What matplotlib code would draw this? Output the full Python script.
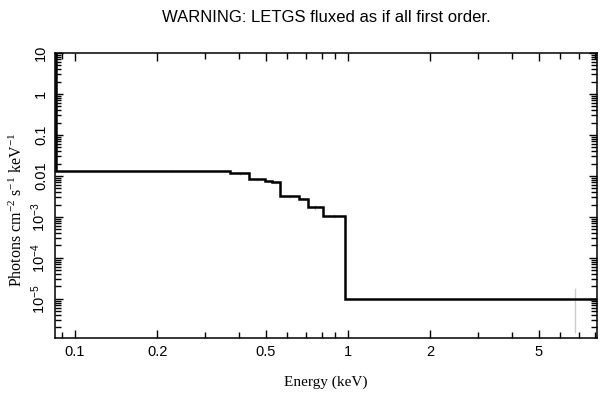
import numpy as np
import matplotlib
matplotlib.use("Agg")
import matplotlib.pyplot as plt
from matplotlib.ticker import FixedLocator, FuncFormatter, NullFormatter

# bin edges (keV) and flux per bin (photons cm^-2 s^-1 keV^-1)
edges = [0.06, 0.0852, 0.370, 0.434, 0.497, 0.527, 0.564, 0.662, 0.711, 0.808, 0.975, 12.6]
flux = [1000.0, 0.0130, 0.01145, 0.0083, 0.00755, 0.0069, 0.00319, 0.0028, 0.00169, 0.00104, 9.7e-6]
# error bar half-heights as fractions of the flux (faint grey bars)
err_frac = [0.0, 0.02, 0.08, 0.08, 0.08, 0.08, 0.1, 0.1, 0.12, 0.12, 0.85]

x_major = [0.1, 0.2, 0.5, 1, 2, 5]
x_labels = ["0.1", "0.2", "0.5", "1", "2", "5"]
y_major = [1e-5, 1e-4, 1e-3, 0.01, 0.1, 1, 10]
y_labels = ["10$^{-5}$", "10$^{-4}$", "10$^{-3}$", "0.01", "0.1", "1", "10"]

plt.rcParams["mathtext.default"] = "regular"
sans = "Liberation Sans"
serif = "Liberation Serif"

fig = plt.figure(figsize=(6.09, 3.99), dpi=100)
ax = fig.add_axes([0.0903, 0.153, 0.8900, 0.714])

edges = np.array(edges)
flux = np.array(flux)
centers = (edges[:-1] + edges[1:]) / 2
err = flux * np.array(err_frac)
ax.vlines(centers[1:], (flux - err)[1:], (flux + err)[1:], color="#cccccc", lw=1, zorder=1)
ax.hlines(flux[1:-1], centers[1:-1] * 0.985, centers[1:-1] * 1.015, color="#cccccc", lw=1, zorder=1)

ax.stairs(flux, edges, color="black", lw=1.8, baseline=None, zorder=2)

ax.set_xscale("log")
ax.set_yscale("log")
ax.set_xlim(0.0845, 8.17)
ax.set_ylim(1.1e-6, 10)

ax.xaxis.set_major_locator(FixedLocator(x_major))
ax.xaxis.set_major_formatter(FuncFormatter(lambda v, i: x_labels[x_major.index(v)] if v in x_major else ""))
minor_x = [0.09, 0.3, 0.4, 0.6, 0.7, 0.8, 0.9, 3, 4, 6, 7, 8]
ax.xaxis.set_minor_locator(FixedLocator(minor_x))
ax.xaxis.set_minor_formatter(NullFormatter())

ax.yaxis.set_major_locator(FixedLocator(y_major))
ax.set_yticklabels(y_labels, rotation=90, va="center", family=sans, fontsize=10.5)
minor_y = [m * 10.0 ** e for e in range(-6, 1) for m in range(2, 10)]
ax.yaxis.set_minor_locator(FixedLocator(minor_y))
ax.yaxis.set_minor_formatter(NullFormatter())

for lab in ax.get_xticklabels():
    lab.set_family(sans)
    lab.set_fontsize(10.5)

ax.tick_params(which="both", direction="in", top=True, right=True, width=1, color="black")
ax.tick_params(which="major", length=6, pad=5)
ax.tick_params(which="minor", length=4)
for s in ax.spines.values():
    s.set_linewidth(1.1)

ax.set_xlabel("Energy (keV)", family=serif, fontsize=11, labelpad=12)
ax.set_ylabel("Photons cm$^{-2}$ s$^{-1}$ keV$^{-1}$", family=serif, fontsize=11.5)
ax.yaxis.set_label_coords(-0.053, 0.45)
fig.text(0.535, 0.955, "WARNING: LETGS fluxed as if all first order.", family=sans, fontsize=12,
         ha="center", va="center")

fig.savefig("out.png", dpi=100)
